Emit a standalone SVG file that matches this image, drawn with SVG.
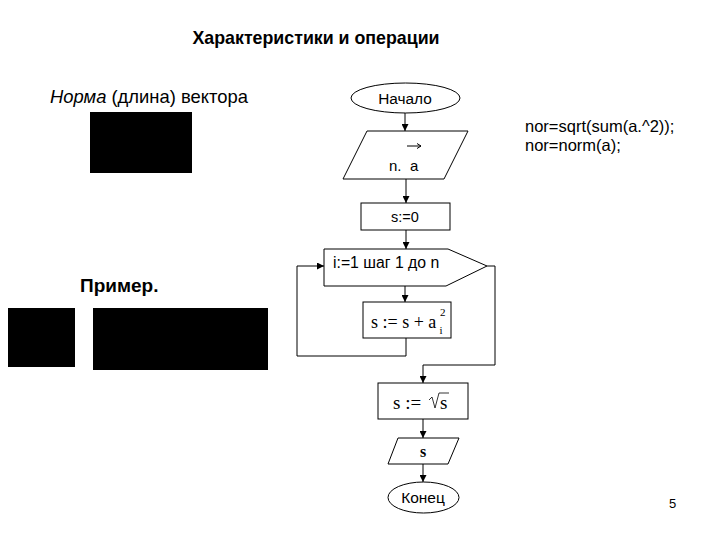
<svg xmlns="http://www.w3.org/2000/svg" width="720" height="540" viewBox="0 0 720 540">
<defs>
<marker id="arr" viewBox="0 0 10 10" refX="10" refY="5" markerWidth="7" markerHeight="7" markerUnits="userSpaceOnUse" orient="auto">
<path d="M0,0 L10,5 L0,10 Z" fill="#000"/>
</marker>
</defs>
<style>
.s{font-family:"Liberation Sans",Arial,sans-serif;fill:#000}
.m{font-family:"Liberation Serif","Times New Roman",serif;fill:#000}
.sh{fill:#fff;stroke:#000;stroke-width:1}
.c{fill:none;stroke:#000;stroke-width:1}
.blk{fill:#000}
</style>
<rect width="720" height="540" fill="#fff"/>
<g id="texts">
<text class="s" x="316" y="44" font-size="17.8" font-weight="bold" text-anchor="middle">Характеристики и операции</text>
<text class="s" x="50" y="103" font-size="18.4"><tspan font-style="italic">Норма</tspan> (длина) вектора</text>
<text class="s" x="80" y="292" font-size="19" font-weight="bold">Пример.</text>
<text class="s" x="525" y="132" font-size="16.5">nor=sqrt(sum(a.^2));</text>
<text class="s" x="525" y="151" font-size="16.5">nor=norm(a);</text>
<text class="s" x="669" y="508" font-size="13">5</text>
</g>
<g id="images">
<rect class="blk" x="90" y="112" width="102" height="61"/>
<rect class="blk" x="8" y="308" width="67" height="59"/>
<rect class="blk" x="93" y="308" width="175" height="62"/>
</g>
<g id="connectors">
<line class="c" x1="405" y1="113" x2="405" y2="131" marker-end="url(#arr)"/>
<line class="c" x1="406" y1="179" x2="406" y2="203" marker-end="url(#arr)"/>
<line class="c" x1="406" y1="230" x2="406" y2="249" marker-end="url(#arr)"/>
<line class="c" x1="405" y1="286" x2="405" y2="302" marker-end="url(#arr)"/>
<polyline class="c" points="406,338 406,356 297,356 297,266 324,266" marker-end="url(#arr)"/>
<polyline class="c" points="487,266 495,266 495,365 423,365 423,383" marker-end="url(#arr)"/>
<line class="c" x1="423" y1="419" x2="423" y2="438" marker-end="url(#arr)"/>
<line class="c" x1="423" y1="464" x2="423" y2="482" marker-end="url(#arr)"/>
</g>
<g id="start">
<ellipse class="sh" cx="405.5" cy="98" rx="54.5" ry="15"/>
<text class="s" x="405" y="104" font-size="15.4" text-anchor="middle">Начало</text>
</g>
<g id="input">
<polygon class="sh" points="367,131 468,131 444,179 343,179"/>
<text class="s" x="389" y="171" font-size="15">n.</text>
<text class="s" x="410" y="171" font-size="15">a</text>
<line class="c" x1="407" y1="146" x2="421" y2="146" stroke-width="0.8"/>
<path d="M417,143.5 L421,146 L417,148.5" class="c" stroke-width="0.8"/>
</g>
<g id="init">
<rect class="sh" x="361" y="203" width="89" height="27"/>
<text class="s" x="405" y="222" font-size="14.5" text-anchor="middle">s:=0</text>
</g>
<g id="loop">
<polygon class="sh" points="324,249 448,249 487,266 446,286 324,286"/>
<text class="s" x="333" y="268" font-size="15.8">i:=1 шаг 1 до n</text>
</g>
<g id="body">
<rect class="sh" x="363" y="302" width="88" height="36"/>
<text class="m" x="371" y="328" font-size="18">s := s + a</text>
<text class="m" x="439.5" y="334" font-size="11">i</text>
<text class="m" x="440" y="316" font-size="11">2</text>
</g>
<g id="sqrt">
<rect class="sh" x="378" y="383" width="90" height="36"/>
<text class="m" x="393" y="409" font-size="19">s := </text>
<path d="M429,400 L432,397 L435,408 L439,393 L449,393" fill="none" stroke="#000" stroke-width="0.8"/>
<text class="m" x="440" y="409" font-size="19">s</text>
</g>
<g id="output">
<polygon class="sh" points="398,438 459,438 448,464 388,464"/>
<text class="m" x="423" y="457" font-size="16" font-weight="bold" text-anchor="middle">s</text>
</g>
<g id="end">
<ellipse class="sh" cx="423.5" cy="497.5" rx="35.5" ry="15.5"/>
<text class="s" x="423" y="503" font-size="15.5" text-anchor="middle">Конец</text>
</g>
</svg>
